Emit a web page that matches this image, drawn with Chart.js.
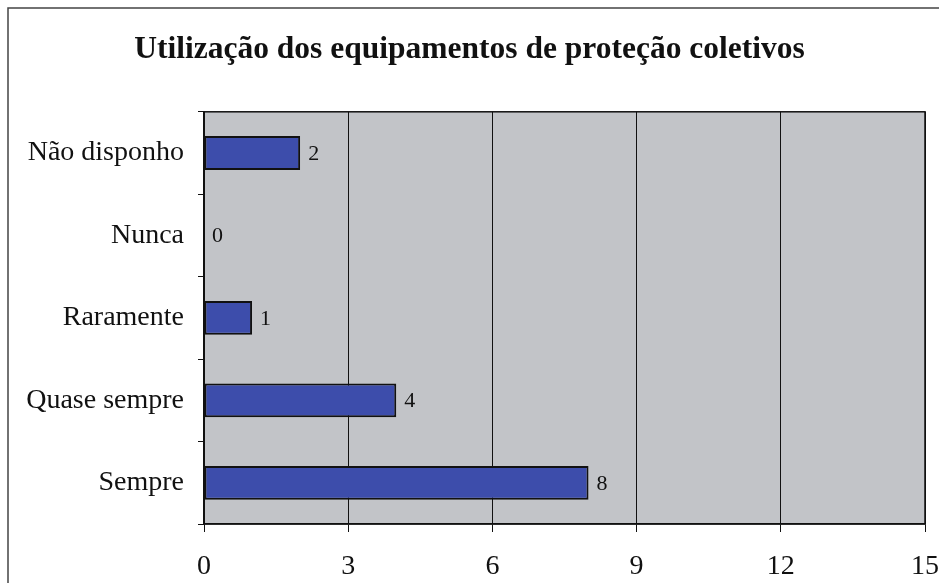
<!DOCTYPE html>
<html>
<head>
<meta charset="utf-8">
<script src="https://cdn.jsdelivr.net/npm/chart.js@4"></script>
<style>
  html, body { margin: 0; padding: 0; background: #fff; }
  #wrap { width: 939px; height: 583px; }
</style>
</head>
<body>
<div id="wrap"><canvas id="chart" width="939" height="583"></canvas></div>
<script>
// Utilização dos equipamentos de proteção coletivos
const categories = ['Não disponho', 'Nunca', 'Raramente', 'Quase sempre', 'Sempre'];
const counts = [2, 0, 1, 4, 8];
const xTicks = [0, 3, 6, 9, 12, 15];

const serif = '"Liberation Serif", "Times New Roman", serif';

// grey plot background, frame and outer border
const plotFrame = {
    id: 'plotFrame',
    beforeDraw(chart) {
        const { ctx, chartArea: a } = chart;
        ctx.save();
        ctx.strokeStyle = '#444';
        ctx.lineWidth = 1.5;
        ctx.strokeRect(8, 8, 960, 600);
        ctx.fillStyle = '#c2c4c8';
        ctx.fillRect(a.left, a.top, a.right - a.left, a.bottom - a.top);
        ctx.restore();
    },
    afterDatasetsDraw(chart) {
        const { ctx, chartArea: a } = chart;
        ctx.save();
        ctx.strokeStyle = '#111';
        ctx.lineWidth = 1.5;
        ctx.strokeRect(a.left, a.top, a.right - a.left, a.bottom - a.top);
        ctx.restore();
    }
};

// value next to each bar
const barValues = {
    id: 'barValues',
    afterDatasetsDraw(chart) {
        const { ctx } = chart;
        const meta = chart.getDatasetMeta(0);
        ctx.save();
        ctx.font = '22px ' + serif;
        ctx.fillStyle = '#111';
        ctx.textBaseline = 'middle';
        meta.data.forEach((bar, i) => {
            ctx.fillText(String(counts[i]), bar.x + 8, bar.y + 1);
        });
        ctx.restore();
    }
};

new Chart(document.getElementById('chart'), {
    type: 'bar',
    data: {
        labels: categories,
        datasets: [{
            data: counts,
            backgroundColor: '#3d4dab',
            borderColor: '#111',
            borderWidth: 2,
            borderSkipped: false,
            categoryPercentage: 1,
            barPercentage: 0.41
        }]
    },
    options: {
        indexAxis: 'y',
        responsive: false,
        animation: false,
        layout: { padding: { top: 0, left: 0, right: 0, bottom: 0 } },
        plugins: {
            legend: { display: false },
            tooltip: { enabled: false },
            title: {
                display: true,
                text: 'Utilização dos equipamentos de proteção coletivos',
                color: '#111',
                font: { family: serif, size: 31.5, weight: 'bold' },
                padding: { top: 31, bottom: 43 }
            }
        },
        scales: {
            x: {
                min: 0,
                max: 15,
                afterBuildTicks(scale) {
                    scale.ticks = xTicks.map(v => ({ value: v }));
                },
                afterFit(scale) {
                    scale.height = 59;
                    scale.paddingLeft = 0;
                    scale.paddingRight = 14;
                },
                border: { display: true, color: '#111', width: 1.5 },
                grid: {
                    color: '#111',
                    lineWidth: 1,
                    drawTicks: true,
                    tickLength: 8,
                    tickColor: '#111'
                },
                ticks: {
                    color: '#111',
                    padding: 18,
                    maxRotation: 0,
                    font: { family: serif, size: 28 }
                }
            },
            y: {
                afterFit(scale) { scale.width = 204; },
                border: { display: true, color: '#111', width: 1.5 },
                grid: {
                    offset: true,
                    drawOnChartArea: false,
                    tickLength: 6,
                    tickColor: '#111'
                },
                ticks: {
                    color: '#111',
                    padding: 14,
                    font: { family: serif, size: 28 }
                }
            }
        }
    },
    plugins: [plotFrame, barValues]
});
</script>
</body>
</html>
